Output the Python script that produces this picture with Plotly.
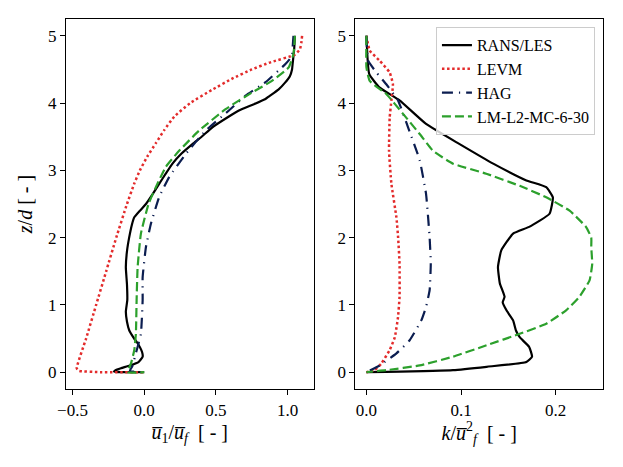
'''
Velocity and TKE profiles: RANS/LES vs. LEVM, HAG and LM-L2-MC-6-30
'''

import plotly.graph_objects as go
from plotly.subplots import make_subplots

# ---- left panel: mean streamwise velocity u1/uf over z/d ----
rl_u_z = [5.0, 4.8, 4.6, 4.5, 4.4, 4.3, 4.2, 4.1, 4.06, 3.98, 3.89, 3.8, 3.64, 3.5, 3.39, 3.25,
          3.1, 2.95, 2.8, 2.65, 2.5, 2.4, 2.3, 2.2, 2.0, 1.8, 1.56, 1.3, 1.07, 0.9, 0.75, 0.62,
          0.5, 0.43, 0.3, 0.23, 0.15, 0.1, 0.06, 0.03, 0.01, 0.0, 0.0]
rl_u = [1.05, 1.045, 1.035, 1.03, 1.015, 0.98, 0.935, 0.87, 0.845, 0.76, 0.66, 0.59, 0.475, 0.40,
        0.336, 0.26, 0.197, 0.15, 0.104, 0.06, 0.012, -0.03, -0.07, -0.085, -0.105, -0.12, -0.128,
        -0.12, -0.118, -0.128, -0.12, -0.104, -0.07, -0.046, -0.015, -0.011, -0.04, -0.1, -0.16,
        -0.2, -0.21, -0.15, 0.0]

levm_u_z = [5.0, 4.9, 4.8, 4.72, 4.6, 4.5, 4.36, 4.2, 4.0, 3.8, 3.6, 3.4, 3.2, 3.0, 2.8, 2.5,
            2.0, 1.5, 1.0, 0.5, 0.06, 0.02, 0.0, 0.0]
levm_u = [1.10, 1.095, 1.085, 1.05, 0.87, 0.75, 0.61, 0.475, 0.32, 0.21, 0.14, 0.08, 0.02, -0.03,
          -0.07, -0.12, -0.195, -0.265, -0.335, -0.405, -0.47, -0.455, -0.3, 0.0]

hag_u_z = [5.0, 4.85, 4.7, 4.58, 4.31, 4.11, 3.89, 3.59, 3.245, 2.9, 2.6, 2.21, 1.86, 1.41, 1.07,
           0.57, 0.375, 0.23, 0.1, 0.02, 0.0]
hag_u = [1.04, 1.035, 1.03, 0.984, 0.845, 0.706, 0.59, 0.428, 0.29, 0.174, 0.104, 0.047, 0.012,
         -0.011, -0.011, -0.023, -0.046, -0.065, -0.08, -0.1, 0.0]

lm_u_z = [5.0, 4.73, 4.53, 4.33, 4.16, 3.91, 3.59, 3.29, 3.05, 2.75, 2.5, 2.06, 1.56, 1.07, 0.57,
          0.33, 0.13, 0.0, 0.0]
lm_u = [1.05, 1.04, 1.007, 0.89, 0.753, 0.567, 0.382, 0.243, 0.15, 0.081, 0.03, -0.023, -0.046,
        -0.053, -0.058, -0.069, -0.092, -0.115, 0.0]

# ---- right panel: turbulent kinetic energy k/uf^2 over z/d ----
rl_k_z = [5.0, 4.43, 4.23, 4.04, 3.69, 3.39, 3.10, 2.85, 2.75, 2.6, 2.355, 2.16, 2.06, 1.81, 1.56,
          1.32, 1.12, 1.04, 0.92, 0.77, 0.62, 0.52, 0.375, 0.23, 0.15, 0.08, 0.03, 0.005, 0.0]
rl_k = [0.0, 0.003, 0.014, 0.035, 0.063, 0.0985, 0.134, 0.169, 0.19, 0.197, 0.1935, 0.172, 0.155,
        0.1425, 0.139, 0.141, 0.146, 0.144, 0.148, 0.155, 0.158, 0.162, 0.172, 0.175, 0.169, 0.127,
        0.0915, 0.021, 0.0]

levm_k_z = [5.0, 4.78, 4.63, 4.455, 4.28, 4.04, 3.79, 3.29, 2.8, 2.3, 2.0, 1.61, 1.12, 0.82, 0.52,
            0.33, 0.13, 0.03, 0.0]
levm_k = [0.0, 0.0035, 0.014, 0.0246, 0.028, 0.0264, 0.0246, 0.0239, 0.0264, 0.0317, 0.0335,
          0.035, 0.035, 0.0334, 0.030, 0.0246, 0.0158, 0.0088, 0.0]

hag_k_z = [5.0, 4.63, 4.455, 4.28, 4.04, 3.64, 3.15, 2.65, 2.0, 1.61, 1.22, 0.97, 0.77, 0.475,
           0.28, 0.10, 0.0]
hag_k = [0.0, 0.0018, 0.0106, 0.021, 0.0334, 0.044, 0.0563, 0.063, 0.0668, 0.068, 0.0668, 0.063,
         0.058, 0.0457, 0.0317, 0.014, 0.0]

lm_k_z = [5.0, 4.53, 4.33, 4.135, 3.84, 3.54, 3.29, 3.10, 2.95, 2.77, 2.6, 2.4, 2.16, 2.0, 1.86,
          1.61, 1.365, 1.12, 0.92, 0.72, 0.57, 0.40, 0.23, 0.10, 0.03, 0.0]
lm_k = [0.0, 0.0, 0.0035, 0.021, 0.0387, 0.0563, 0.0704, 0.0915, 0.1267, 0.162, 0.19, 0.2147,
        0.232, 0.2376, 0.2376, 0.2386, 0.2358, 0.225, 0.211, 0.19, 0.162, 0.127, 0.0915, 0.0563,
        0.021, 0.0]

font_family = 'Liberation Serif'
font_size = 17

# name, color, line width, dash pattern, (u, z), (k, z)
series = [
    ('RANS/LES', 'black', 2.2, 'solid', (rl_u, rl_u_z), (rl_k, rl_k_z)),
    ('LEVM', '#e32b2b', 2.5, '2.5px,2.6px', (levm_u, levm_u_z), (levm_k, levm_k_z)),
    ('HAG', '#0b1d50', 2.2, '11px,6px,1.2px,6px', (hag_u, hag_u_z), (hag_k, hag_k_z)),
    ('LM-L2-MC-6-30', '#2ca02c', 2.2, '9px,4px', (lm_u, lm_u_z), (lm_k, lm_k_z)),
]

fig = make_subplots(rows=1, cols=2, horizontal_spacing=0.078)
for name, color, lw, dash, (u, uz), (k, kz) in series:
    fig.add_trace(go.Scatter(
        x=u, y=uz, mode='lines', name=name, showlegend=False,
        line=dict(color=color, width=lw, dash=dash, shape='spline', smoothing=0.4)
    ), row=1, col=1)
    fig.add_trace(go.Scatter(
        x=k, y=kz, mode='lines', name=name,
        line=dict(color=color, width=lw, dash=dash, shape='spline', smoothing=0.4)
    ), row=1, col=2)

axis_style = dict(
    showline=True, linecolor='black', linewidth=1.2, mirror=True,
    ticks='outside', ticklen=5, tickwidth=1.2, tickcolor='black',
    showgrid=False, zeroline=False,
    tickfont=dict(size=font_size, color='black', family=font_family),
)

fig.update_xaxes(**axis_style)
fig.update_yaxes(**axis_style)
fig.update_xaxes(range=[-0.545, 1.18], tickvals=[-0.5, 0.0, 0.5, 1.0],
                 ticktext=['\u22120.5', '0.0', '0.5', '1.0'],
                 title_text='<i>u\u0305</i><sub>1</sub>/<i>u\u0305</i><sub><i>f</i></sub>  [ - ]',
                 title_standoff=6, row=1, col=1)
fig.update_xaxes(range=[-0.0116, 0.25], tickvals=[0.0, 0.1, 0.2],
                 ticktext=['0.0', '0.1', '0.2'],
                 title_text='<i>k</i>/<i>u\u0305</i><sup>2</sup><sub><i>f</i></sub>  [ - ]',
                 title_standoff=6, row=1, col=2)
fig.update_yaxes(range=[-0.25, 5.25], tickvals=[0, 1, 2, 3, 4, 5])
fig.update_yaxes(title_text='<i>z</i>/<i>d</i> [ - ]', title_standoff=10, row=1, col=1)

# the page body adds an 8px offset, so the figure is sized to fit the window
fig.update_layout(
    width=615, height=459,
    margin=dict(l=58, r=20, t=11, b=78, autoexpand=False),
    paper_bgcolor='white', plot_bgcolor='white',
    font=dict(family=font_family, size=font_size, color='black'),
    legend=dict(
        x=0.985, y=0.978, xanchor='right', yanchor='top',
        bgcolor='rgba(255,255,255,0.8)', bordercolor='#cccccc', borderwidth=1,
        font=dict(size=16, family=font_family), itemwidth=30, tracegroupgap=0,
    ),
)

fig.write_html('out.html')
